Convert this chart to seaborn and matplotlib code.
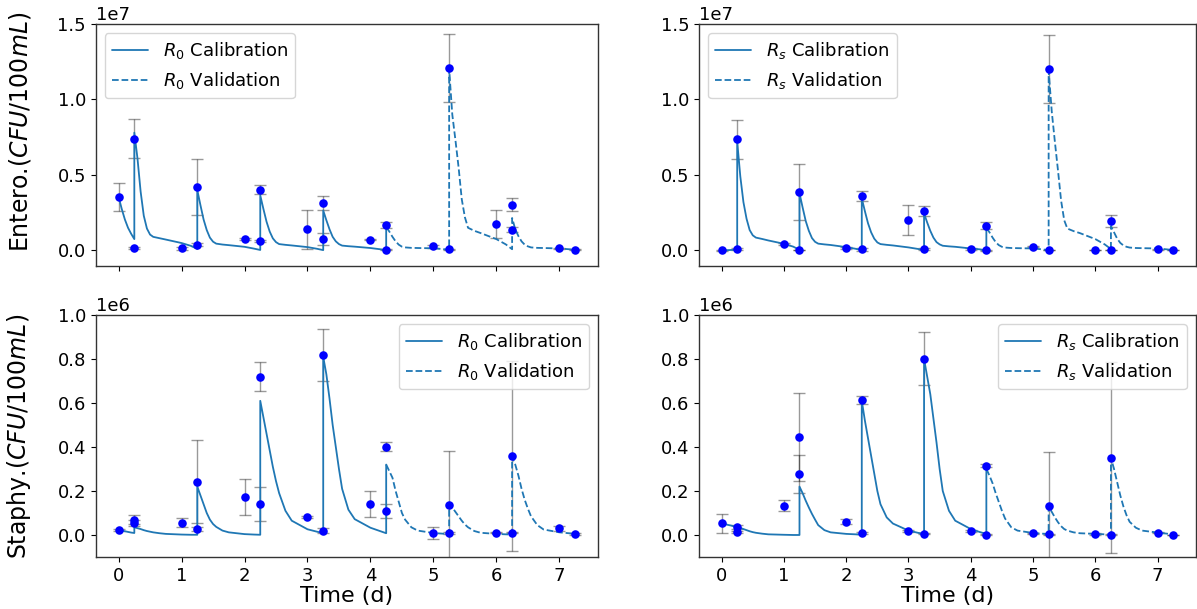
""" Entero / Staphy model fits against measurements """

import matplotlib
matplotlib.use("Agg")
import matplotlib.pyplot as plt
import seaborn as sns

# model time grid in days (jump times are listed twice)
model_t = [
    0.0, 0.05, 0.1, 0.15, 0.2, 0.25,
    0.25, 0.3, 0.35, 0.4, 0.45, 0.5, 0.55, 0.65, 0.75, 1.0, 1.15, 1.25,
    1.25, 1.3, 1.35, 1.4, 1.45, 1.5, 1.55, 1.65, 1.75, 2.0, 2.15, 2.25,
    2.25, 2.3, 2.35, 2.4, 2.45, 2.5, 2.55, 2.65, 2.75, 3.0, 3.15, 3.25,
    3.25, 3.3, 3.35, 3.4, 3.45, 3.5, 3.55, 3.65, 3.75, 4.0, 4.15, 4.25,
    4.25, 4.3, 4.35, 4.4, 4.45, 4.5, 4.55, 4.65, 4.75, 5.0, 5.15, 5.25,
    5.25, 5.3, 5.35, 5.4, 5.45, 5.5, 5.55, 5.65, 5.75, 6.0, 6.15, 6.25,
    6.25, 6.3, 6.35, 6.4, 6.45, 6.5, 6.55, 6.65, 6.75, 7.0, 7.15, 7.25,
]
N_CAL = 55  # calibration runs up to the 4.25 peak

# model values, x1e6 CFU/100mL
entero_r0_model = [
    3.55, 2.75, 2.05, 1.5, 1.1, 0.75,
    7.8, 6.1, 3.9, 2.3, 1.45, 1.05, 0.9, 0.81, 0.72, 0.49, 0.3, 0.1,
    4.0, 3.0, 2.05, 1.35, 0.85, 0.58, 0.45, 0.39, 0.35, 0.24, 0.12, 0.03,
    3.65, 2.75, 1.9, 1.25, 0.8, 0.55, 0.42, 0.37, 0.33, 0.22, 0.11, 0.02,
    2.65, 2.0, 1.4, 0.9, 0.6, 0.42, 0.32, 0.28, 0.25, 0.16, 0.08, 0.01,
    1.55, 1.25, 0.9, 0.6, 0.38, 0.25, 0.2, 0.17, 0.16, 0.14, 0.09, 0.04,
    12.0, 9.0, 7.3, 5.5, 3.4, 2.2, 1.5, 1.3, 1.15, 0.75, 0.4, 0.08,
    2.15, 1.4, 0.95, 0.6, 0.38, 0.27, 0.2, 0.17, 0.16, 0.13, 0.08, 0.04,
]
entero_rs_model = [
    0.0, 0.01, 0.02, 0.03, 0.04, 0.05,
    7.2, 4.9, 3.2, 2.1, 1.35, 1.0, 0.85, 0.76, 0.66, 0.44, 0.25, 0.04,
    3.8, 2.85, 1.95, 1.3, 0.82, 0.57, 0.45, 0.4, 0.36, 0.22, 0.11, 0.01,
    3.45, 2.6, 1.8, 1.2, 0.78, 0.53, 0.42, 0.37, 0.33, 0.2, 0.1, 0.01,
    2.45, 1.85, 1.3, 0.85, 0.55, 0.4, 0.31, 0.27, 0.24, 0.13, 0.07, 0.0,
    1.5, 1.2, 0.85, 0.55, 0.35, 0.24, 0.19, 0.16, 0.15, 0.13, 0.07, 0.02,
    11.9, 9.2, 7.2, 5.3, 3.3, 2.0, 1.45, 1.28, 1.15, 0.75, 0.4, 0.09,
    1.6, 1.2, 0.78, 0.5, 0.33, 0.24, 0.19, 0.16, 0.15, 0.13, 0.07, 0.02,
]
staphy_r0_model = [
    0.023, 0.02, 0.017, 0.014, 0.011, 0.009,
    0.035, 0.031, 0.027, 0.022, 0.018, 0.015, 0.012, 0.008, 0.005, 0.002, 0.001, 0.001,
    0.22, 0.18, 0.14, 0.1, 0.07, 0.05, 0.037, 0.02, 0.012, 0.004, 0.002, 0.001,
    0.61, 0.535, 0.46, 0.385, 0.31, 0.245, 0.19, 0.11, 0.065, 0.026, 0.015, 0.009,
    0.81, 0.73, 0.62, 0.5, 0.4, 0.3, 0.21, 0.115, 0.072, 0.033, 0.018, 0.008,
    0.32, 0.29, 0.26, 0.2, 0.15, 0.1, 0.07, 0.035, 0.02, 0.009, 0.006, 0.005,
    0.138, 0.125, 0.105, 0.085, 0.065, 0.048, 0.035, 0.018, 0.01, 0.005, 0.003, 0.002,
    0.355, 0.32, 0.27, 0.21, 0.16, 0.12, 0.085, 0.045, 0.025, 0.012, 0.008, 0.005,
]
staphy_rs_model = [
    0.053, 0.05, 0.046, 0.043, 0.039, 0.036,
    0.036, 0.032, 0.027, 0.022, 0.017, 0.013, 0.01, 0.006, 0.003, 0.001, 0.0, 0.0,
    0.22, 0.19, 0.156, 0.125, 0.096, 0.07, 0.045, 0.022, 0.012, 0.005, 0.003, 0.002,
    0.61, 0.52, 0.44, 0.36, 0.28, 0.2, 0.14, 0.08, 0.052, 0.02, 0.01, 0.005,
    0.8, 0.72, 0.64, 0.53, 0.42, 0.3, 0.2, 0.11, 0.065, 0.027, 0.013, 0.005,
    0.3, 0.27, 0.235, 0.19, 0.15, 0.11, 0.075, 0.035, 0.02, 0.009, 0.006, 0.005,
    0.13, 0.105, 0.08, 0.058, 0.04, 0.027, 0.02, 0.012, 0.008, 0.005, 0.003, 0.002,
    0.35, 0.3, 0.24, 0.18, 0.13, 0.09, 0.06, 0.033, 0.02, 0.011, 0.006, 0.003,
]

# measurements (days) and values, x1e6 CFU/100mL
obs_t = [0, 0.25, 0.25, 1, 1.25, 1.25, 2, 2.25, 2.25, 3, 3.25, 3.25,
         4, 4.25, 4.25, 5, 5.25, 5.25, 6, 6.25, 6.25, 7, 7.25]
entero_r0_obs = [3.54, 0.15, 7.41, 0.15, 0.38, 4.18, 0.75, 0.6, 4.03, 1.39, 0.73, 3.12,
                 0.71, 0.04, 1.66, 0.27, 0.07, 12.06, 1.73, 1.37, 3.03, 0.13, 0.04]
entero_r0_err = [0.92, 0.08, 1.3, 0.1, 0.08, 1.85, 0.06, 0.07, 0.31, 1.3, 0.4, 0.47,
                 0.05, 0.03, 0.2, 0.1, 0.03, 2.25, 0.92, 0.18, 0.42, 0.05, 0.03]
entero_rs_obs = [0.0, 0.09, 7.35, 0.44, 0.02, 3.89, 0.15, 0.07, 3.6, 2.01, 0.09, 2.61,
                 0.09, 0.0, 1.64, 0.24, 0.02, 12.01, 0.02, 0.02, 1.97, 0.07, 0.02]
entero_rs_err = [0.03, 0.05, 1.3, 0.06, 0.02, 1.86, 0.05, 0.1, 0.32, 1.0, 0.05, 0.35,
                 0.04, 0.02, 0.23, 0.04, 0.02, 2.25, 0.02, 0.02, 0.41, 0.03, 0.02]
staphy_r0_obs = [0.023, 0.055, 0.07, 0.056, 0.027, 0.243, 0.173, 0.14, 0.719, 0.082, 0.02, 0.818,
                 0.14, 0.109, 0.401, 0.009, 0.009, 0.138, 0.011, 0.011, 0.359, 0.03, 0.003]
staphy_r0_err = [0.005, 0.012, 0.021, 0.02, 0.008, 0.19, 0.081, 0.078, 0.066, 0.004, 0.01, 0.12,
                 0.06, 0.03, 0.021, 0.028, 0.005, 0.245, 0.004, 0.004, 0.433, 0.01, 0.004]
staphy_rs_obs = [0.053, 0.014, 0.035, 0.132, 0.278, 0.445, 0.061, 0.008, 0.614, 0.017, 0.006, 0.802,
                 0.018, 0.002, 0.315, 0.008, 0.003, 0.131, 0.005, 0.002, 0.351, 0.011, 0.0]
staphy_rs_err = [0.043, 0.006, 0.01, 0.025, 0.086, 0.2, 0.012, 0.004, 0.019, 0.004, 0.003, 0.12,
                 0.004, 0.002, 0.006, 0.003, 0.002, 0.246, 0.003, 0.002, 0.433, 0.003, 0.002]

UNIT = 1e6


def draw_panel(ax, model_y, obs_y, obs_err, rate, legend_loc):
    """ Model curve (calibration + validation) with measured points """
    ys = [v * UNIT for v in model_y]
    oy = [v * UNIT for v in obs_y]
    oe = [v * UNIT for v in obs_err]

    ax.errorbar(obs_t, oy, yerr=oe, fmt="none", ecolor="k", alpha=0.4,
                elinewidth=1, capsize=4, zorder=1)
    sns.lineplot(x=model_t[:N_CAL], y=ys[:N_CAL], sort=False, estimator=None,
                 color="C0", linewidth=1.3, label=rf"${rate}$ Calibration",
                 ax=ax, zorder=2)
    sns.lineplot(x=model_t[N_CAL - 1:], y=ys[N_CAL - 1:], sort=False, estimator=None,
                 color="C0", linewidth=1.3, linestyle="--",
                 label=rf"${rate}$ Validation", ax=ax, zorder=2)
    sns.scatterplot(x=obs_t, y=oy, color="blue", s=38, linewidth=0,
                    legend=False, ax=ax, zorder=3)
    ax.legend(loc=legend_loc, fontsize=13)


def main():
    sns.set_style("ticks", {"axes.edgecolor": "0.2", "text.color": "black",
                            "axes.labelcolor": "black", "xtick.color": "black",
                            "ytick.color": "black"})
    plt.rcParams["font.family"] = ["DejaVu Sans"]

    fig, axes = plt.subplots(2, 2, figsize=(11.97, 6.09), dpi=100, sharex=True)
    panels = [
        (axes[0, 0], entero_r0_model, entero_r0_obs, entero_r0_err, "R_0", "upper left"),
        (axes[0, 1], entero_rs_model, entero_rs_obs, entero_rs_err, "R_s", "upper left"),
        (axes[1, 0], staphy_r0_model, staphy_r0_obs, staphy_r0_err, "R_0", "upper right"),
        (axes[1, 1], staphy_rs_model, staphy_rs_obs, staphy_rs_err, "R_s", "upper right"),
    ]
    for ax, my, oy, oe, rate, loc in panels:
        draw_panel(ax, my, oy, oe, rate, loc)

    for ax in axes[0]:
        ax.set_ylim(-1e6, 1.5e7)
        ax.set_yticks([0, 0.5e7, 1.0e7, 1.5e7])
    for ax in axes[1]:
        ax.set_ylim(-1e5, 1e6)
        ax.set_yticks([0, 2e5, 4e5, 6e5, 8e5, 1e6])
        ax.set_xlabel("Time (d)", fontsize=16, labelpad=1)
    for ax in axes.flat:
        ax.set_xticks(range(8))
        ax.tick_params(labelsize=13, length=3.5, width=0.8)
        ax.yaxis.get_offset_text().set_fontsize(13)
        for sp in ax.spines.values():
            sp.set_linewidth(1.0)
    axes[0, 0].set_ylabel(r"Entero.($CFU/100mL$)", fontsize=17)
    axes[1, 0].set_ylabel(r"Staphy.($CFU/100mL$)", fontsize=17)
    axes[0, 0].yaxis.set_label_coords(-0.124, 0.554)
    axes[1, 0].yaxis.set_label_coords(-0.124, 0.5)

    # panel boxes
    axes[0, 0].set_position([0.080, 0.564, 0.4195, 0.3966])
    axes[0, 1].set_position([0.584, 0.564, 0.4150, 0.3966])
    axes[1, 0].set_position([0.080, 0.0854, 0.4195, 0.3974])
    axes[1, 1].set_position([0.584, 0.0854, 0.4150, 0.3974])

    fig.savefig("out.png", dpi=100)


if __name__ == "__main__":
    main()
